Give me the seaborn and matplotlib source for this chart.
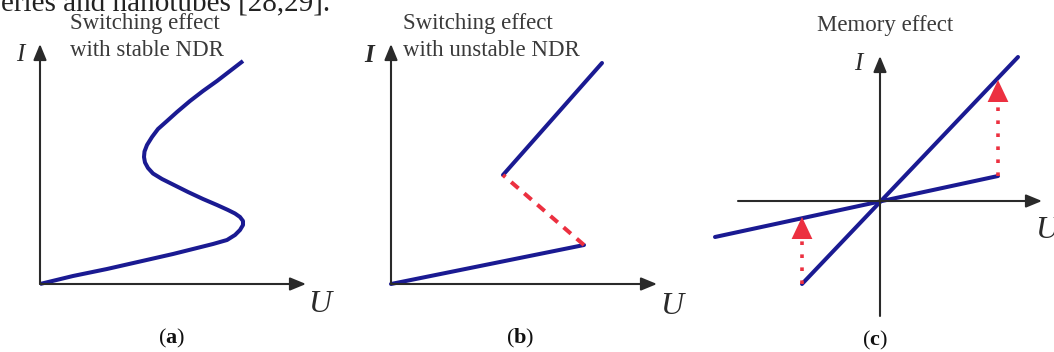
import matplotlib
matplotlib.use("Agg")
import matplotlib.pyplot as plt
import numpy as np
import pandas as pd
import seaborn as sns

sns.set_theme(style="white")
plt.rcParams['font.family'] = ['Liberation Serif', 'DejaVu Serif']
plt.rcParams['mathtext.fontset'] = 'custom'
plt.rcParams['mathtext.rm'] = 'Liberation Serif'
plt.rcParams['mathtext.bf'] = 'Liberation Serif:bold'

# (a) S-shaped I-U curve with stable NDR
a_u = [0.00, 0.33, 0.67, 1.00, 1.33, 1.53, 1.73, 1.87, 1.95, 2.00, 2.03, 2.03,
       2.00, 1.95, 1.88, 1.77, 1.63, 1.48, 1.33, 1.22, 1.13, 1.08, 1.05, 1.04,
       1.045, 1.07, 1.12, 1.18, 1.27, 1.37, 1.50, 1.63, 1.77, 1.90, 2.03]
a_i = [0.00, 0.08, 0.15, 0.225, 0.30, 0.35, 0.40, 0.44, 0.49, 0.54, 0.59, 0.63,
       0.67, 0.705, 0.74, 0.79, 0.85, 0.92, 0.995, 1.05, 1.105, 1.16, 1.215, 1.27,
       1.325, 1.39, 1.47, 1.55, 1.63, 1.72, 1.83, 1.93, 2.03, 2.13, 2.23]

# (b) unstable NDR: low branch, jump (dashed), high branch
b_low_u, b_low_i = [0.00, 1.93], [0.00, 0.39]
b_jump_u, b_jump_i = [1.93, 1.12], [0.39, 1.09]
b_high_u, b_high_i = [1.12, 2.11], [1.09, 2.21]

# (c) memory effect: high and low conductance states, switching jumps
c_on_u, c_on_i = [-0.78, 1.38], [-0.83, 1.44]
c_off_u, c_off_i = [-1.65, 1.18], [-0.36, 0.25]
c_jump_u = [1.18, -0.78]
c_jump_from = [0.25, -0.83]
c_jump_to = [1.21, -0.16]

BLUE = '#1a1a92'
RED = '#ec3040'
AXC = '#2a2a2a'
TXT = '#3a3a3a'
LW = 2.9

W, H = 1054, 352
fig = plt.figure(figsize=(W / 100, H / 100), dpi=100)


def px(x, y):
    return x / W, 1 - y / H


def make_ax(x0, x1, ox, oy):
    ax = fig.add_axes([x0 / W, 0, (x1 - x0) / W, 1])
    ax.set_xlim((x0 - ox) / 100, (x1 - ox) / 100)
    ax.set_ylim((oy - H) / 100, oy / 100)
    ax.axis('off')
    return ax


def axis_arrow(ax, start, end):
    ax.annotate('', xy=end, xytext=start,
                arrowprops=dict(arrowstyle='-|>,head_length=0.8,head_width=0.33',
                                color=AXC, lw=1.5, mutation_scale=12,
                                shrinkA=0, shrinkB=0))


def curve(ax, u, i, **kw):
    df = pd.DataFrame({'U': u, 'I': i})
    sns.lineplot(data=df, x='U', y='I', sort=False, estimator=None, ax=ax, **kw)


# panel (a)
ax_a = make_ax(0, 350, 40, 284)
axis_arrow(ax_a, (0, 0), (0, 2.40))
axis_arrow(ax_a, (0, 0), (2.66, 0))
curve(ax_a, a_u, a_i, color=BLUE, lw=LW, solid_joinstyle='round', solid_capstyle='butt')

# panel (b)
ax_b = make_ax(350, 700, 391, 284)
axis_arrow(ax_b, (0, 0), (0, 2.40))
axis_arrow(ax_b, (0, 0), (2.66, 0))
curve(ax_b, b_low_u, b_low_i, color=BLUE, lw=LW)
curve(ax_b, b_high_u, b_high_i, color=BLUE, lw=LW)
curve(ax_b, b_jump_u, b_jump_i, color=RED, lw=LW, linestyle=(0, (2.4, 1.9)))

# panel (c)
ax_c = make_ax(700, 1054, 880, 201)
axis_arrow(ax_c, (0, -1.15), (0, 1.45))
axis_arrow(ax_c, (-1.42, 0), (1.62, 0))
curve(ax_c, c_on_u, c_on_i, color=BLUE, lw=LW)
curve(ax_c, c_off_u, c_off_i, color=BLUE, lw=LW)
for u, i0, i1 in zip(c_jump_u, c_jump_from, c_jump_to):
    base = i1 - 0.22
    curve(ax_c, [u, u], [i0, base], color=RED, lw=2.6, linestyle=(0, (1, 2.6)))
    ax_c.annotate('', xy=(u, i1), xytext=(u, base),
                  arrowprops=dict(arrowstyle='-|>,head_length=0.72,head_width=0.34',
                                  color=RED, lw=0, mutation_scale=22,
                                  shrinkA=0, shrinkB=0))

# cut-off line of body text at the top
fig.text(*px(330, 10), 'eries and nanotubes [28,29].', fontsize=21, color='#222222',
         ha='right', va='baseline')

# panel titles
fig.text(*px(70, 24), 'Switching effect', fontsize=16.5, color=TXT, ha='left', va='center')
fig.text(*px(70, 50), 'with stable NDR', fontsize=16.5, color=TXT, ha='left', va='center')
fig.text(*px(403, 24), 'Switching effect', fontsize=16.5, color=TXT, ha='left', va='center')
fig.text(*px(403, 51), 'with unstable NDR', fontsize=16.5, color=TXT, ha='left', va='center')
fig.text(*px(885, 25), 'Memory effect', fontsize=16.5, color=TXT, ha='center', va='center')

# axis names
for x, y, w in [(20, 55, 'normal'), (369, 56, 'bold'), (858, 64, 'normal')]:
    fig.text(*px(x, y), 'I', fontsize=18, style='italic', fontweight=w, color=AXC,
             ha='center', va='center')
for x, y in [(320, 304), (672, 306), (1047, 230)]:
    fig.text(*px(x, y), 'U', fontsize=23, style='italic', color=AXC,
             ha='center', va='center')

# panel letters
for x, y, s in [(172, 338, 'a'), (520, 338, 'b'), (875, 340, 'c')]:
    fig.text(*px(x, y), r'$(\mathbf{' + s + '})$', fontsize=16, color='#111111',
             ha='center', va='center')

plt.savefig('out.png', dpi=100)
